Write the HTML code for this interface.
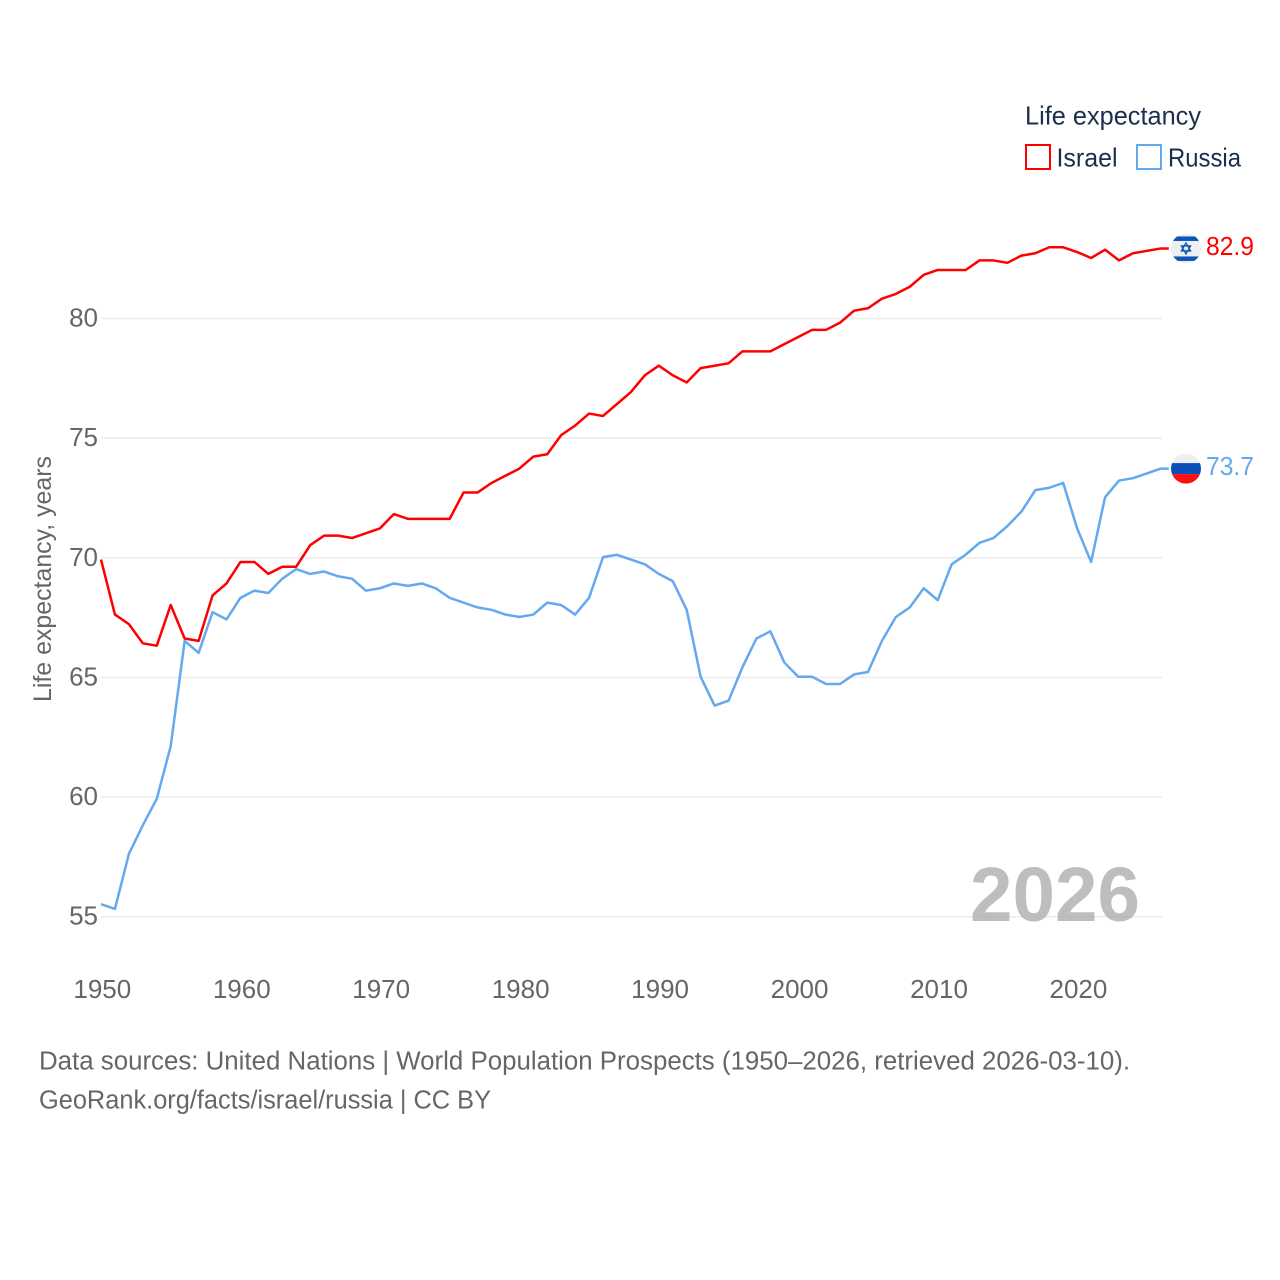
<!DOCTYPE html>
<html lang="en">
<head>
<meta charset="utf-8">
<title>Life expectancy: Israel and Russia</title>
<style>
html,body{margin:0;padding:0;background:#fff;}
svg{display:block;font-family:"Liberation Sans",sans-serif;}
</style>
</head>
<body>
<svg id="chart" width="1280" height="1280" viewBox="0 0 1280 1280" xmlns="http://www.w3.org/2000/svg">
  <rect x="0" y="0" width="1280" height="1280" fill="#ffffff"/>
  <g id="grid"></g>
  <text x="970" y="921" font-size="77" font-weight="700" fill="#a8a8a8" fill-opacity="0.75" textLength="170" lengthAdjust="spacingAndGlyphs">2026</text>
  <g id="yticks"></g>
  <g id="xticks"></g>
  <text transform="translate(51,702) rotate(-90)" font-size="25" fill="#666666" textLength="246" lengthAdjust="spacingAndGlyphs">Life expectancy, years</text>
  <g id="series"></g>

  <g>
    <text x="1025" y="124.5" font-size="26" fill="#1b2f4d" textLength="176" lengthAdjust="spacingAndGlyphs">Life expectancy</text>
    <g>
      <rect x="1026" y="145" width="24" height="24" fill="#ffffff" stroke="#ff0000" stroke-width="2"/>
      <text x="1056.5" y="166.5" font-size="26" fill="#1b2f4d" textLength="61" lengthAdjust="spacingAndGlyphs">Israel</text>
    </g>
    <g>
      <rect x="1137" y="145" width="24" height="24" fill="#ffffff" stroke="#64a9ef" stroke-width="2"/>
      <text x="1168" y="166.5" font-size="26" fill="#1b2f4d" textLength="73" lengthAdjust="spacingAndGlyphs">Russia</text>
    </g>
  </g>

  <defs>
    <clipPath id="flag-clip"><circle cx="0" cy="0" r="15"/></clipPath>
  </defs>
  <g id="flag-israel">
    <g clip-path="url(#flag-clip)">
      <rect x="-15" y="-15" width="30" height="30" fill="#efefef"/>
      <rect x="-15" y="-12" width="30" height="4.5" fill="#0b55b8"/>
      <rect x="-15" y="8" width="30" height="4.5" fill="#0b55b8"/>
      <path d="M0 -5.5 L4.6 2.5 L-4.6 2.5 Z M0 5.5 L4.6 -2.5 L-4.6 -2.5 Z" fill="none" stroke="#0b55b8" stroke-width="1.3"/>
    </g>
  </g>
  <g id="flag-russia">
    <g clip-path="url(#flag-clip)">
      <rect x="-15" y="-15" width="30" height="30" fill="#efefef"/>
      <rect x="-15" y="-5.5" width="30" height="11" fill="#0a50b8"/>
      <rect x="-15" y="5.5" width="30" height="10" fill="#fb0f0f"/>
    </g>
  </g>
  <g id="end-labels"></g>

  <text x="39" y="1069.5" font-size="25.5" fill="#666666" textLength="1091" lengthAdjust="spacingAndGlyphs">Data sources: United Nations | World Population Prospects (1950–2026, retrieved 2026-03-10).</text>
  <text x="39" y="1108.5" font-size="25.5" fill="#666666" textLength="452" lengthAdjust="spacingAndGlyphs">GeoRank.org/facts/israel/russia | CC BY</text>
</svg>
<script>
const startYear = 1950;
const xTickLabels = [1950, 1960, 1970, 1980, 1990, 2000, 2010, 2020];
const yTickLabels = [55, 60, 65, 70, 75, 80];
const israelValues = [69.9,67.6,67.2,66.4,66.3,68.0,66.6,66.5,68.4,68.9,69.8,69.8,69.3,69.6,69.6,70.5,70.9,70.9,70.8,71.0,71.2,71.8,71.6,71.6,71.6,71.6,72.7,72.7,73.1,73.4,73.7,74.2,74.3,75.1,75.5,76.0,75.9,76.4,76.9,77.6,78.0,77.6,77.3,77.9,78.0,78.1,78.6,78.6,78.6,78.9,79.2,79.5,79.5,79.8,80.3,80.4,80.8,81.0,81.3,81.8,82.0,82.0,82.0,82.4,82.4,82.3,82.6,82.7,82.95,82.95,82.75,82.5,82.85,82.4,82.7,82.8,82.9];
const russiaValues = [55.5,55.3,57.6,58.8,59.9,62.1,66.5,66.0,67.7,67.4,68.3,68.6,68.5,69.1,69.5,69.3,69.4,69.2,69.1,68.6,68.7,68.9,68.8,68.9,68.7,68.3,68.1,67.9,67.8,67.6,67.5,67.6,68.1,68.0,67.6,68.3,70.0,70.1,69.9,69.7,69.3,69.0,67.8,65.0,63.8,64.0,65.4,66.6,66.9,65.6,65.0,65.0,64.7,64.7,65.1,65.2,66.5,67.5,67.9,68.7,68.2,69.7,70.1,70.6,70.8,71.3,71.9,72.8,72.9,73.1,71.2,69.8,72.5,73.2,73.3,73.5,73.7];

const NS = "http://www.w3.org/2000/svg";
function xScale(year) { return 101 + (year - 1950) * 13.945; }
function yScale(v) { return 916.7 - (v - 55) * 23.93; }
function yLine(v) { return yScale(v) - 0.6; }

const gridGroup = document.getElementById("grid");
const yTickGroup = document.getElementById("yticks");
yTickLabels.forEach(function (t) {
  const line = document.createElementNS(NS, "line");
  
  
  line.setAttribute("x1", xScale(startYear));
  line.setAttribute("x2", 1162);
  line.setAttribute("y1", yScale(t));
  line.setAttribute("y2", yScale(t));
  line.setAttribute("stroke", "#ebebeb");
  line.setAttribute("stroke-width", "1.5");
  gridGroup.appendChild(line);

  const label = document.createElementNS(NS, "text");
  
  
  label.setAttribute("x", 98);
  label.setAttribute("y", yScale(t) + 8);
  label.setAttribute("text-anchor", "end");
  label.setAttribute("font-size", "26");
  label.setAttribute("fill", "#666666");
  label.textContent = t;
  yTickGroup.appendChild(label);
});

const xTickGroup = document.getElementById("xticks");
xTickLabels.forEach(function (t) {
  const label = document.createElementNS(NS, "text");
  
  
  label.setAttribute("x", xScale(t) + 1.3);
  label.setAttribute("y", 998);
  label.setAttribute("text-anchor", "middle");
  label.setAttribute("font-size", "26");
  label.setAttribute("fill", "#666666");
  label.textContent = t;
  xTickGroup.appendChild(label);
});

function linePoints(values) {
  const pts = values.map(function (v, i) {
    return xScale(startYear + i).toFixed(2) + "," + yLine(v).toFixed(2);
  });
  const last = values[values.length - 1];
  pts.push((xScale(startYear + values.length - 1) + 8).toFixed(2) + "," + yLine(last).toFixed(2));
  return pts.join(" ");
}

const seriesGroup = document.getElementById("series");

const russiaLine = document.createElementNS(NS, "polyline");


russiaLine.setAttribute("points", linePoints(russiaValues));
russiaLine.setAttribute("fill", "none");
russiaLine.setAttribute("stroke", "#64a9ef");
russiaLine.setAttribute("stroke-width", "2.5");
russiaLine.setAttribute("stroke-linejoin", "round");
seriesGroup.appendChild(russiaLine);

const israelLine = document.createElementNS(NS, "polyline");


israelLine.setAttribute("points", linePoints(israelValues));
israelLine.setAttribute("fill", "none");
israelLine.setAttribute("stroke", "#ff0000");
israelLine.setAttribute("stroke-width", "2.5");
israelLine.setAttribute("stroke-linejoin", "round");
seriesGroup.appendChild(israelLine);

const flagX = 1186;
const israelLast = israelValues[israelValues.length - 1];
const russiaLast = russiaValues[russiaValues.length - 1];
const israelEndY = yLine(israelLast);
const russiaEndY = yLine(russiaLast);
document.getElementById("flag-israel").setAttribute("transform", "translate(" + flagX + "," + israelEndY + ")");
document.getElementById("flag-russia").setAttribute("transform", "translate(" + flagX + "," + russiaEndY + ")");

const endGroup = document.getElementById("end-labels");

const israelEnd = document.createElementNS(NS, "text");


israelEnd.setAttribute("x", 1206);
israelEnd.setAttribute("y", israelEndY + 6.5);
israelEnd.setAttribute("font-size", "26");
israelEnd.setAttribute("fill", "#ff0000");
israelEnd.setAttribute("textLength", "48");
israelEnd.setAttribute("lengthAdjust", "spacingAndGlyphs");
israelEnd.textContent = israelLast.toFixed(1);
endGroup.appendChild(israelEnd);

const russiaEnd = document.createElementNS(NS, "text");


russiaEnd.setAttribute("x", 1206);
russiaEnd.setAttribute("y", russiaEndY + 6.5);
russiaEnd.setAttribute("font-size", "26");
russiaEnd.setAttribute("fill", "#64a9ef");
russiaEnd.setAttribute("textLength", "48");
russiaEnd.setAttribute("lengthAdjust", "spacingAndGlyphs");
russiaEnd.textContent = russiaLast.toFixed(1);
endGroup.appendChild(russiaEnd);
</script>
</body>
</html>
